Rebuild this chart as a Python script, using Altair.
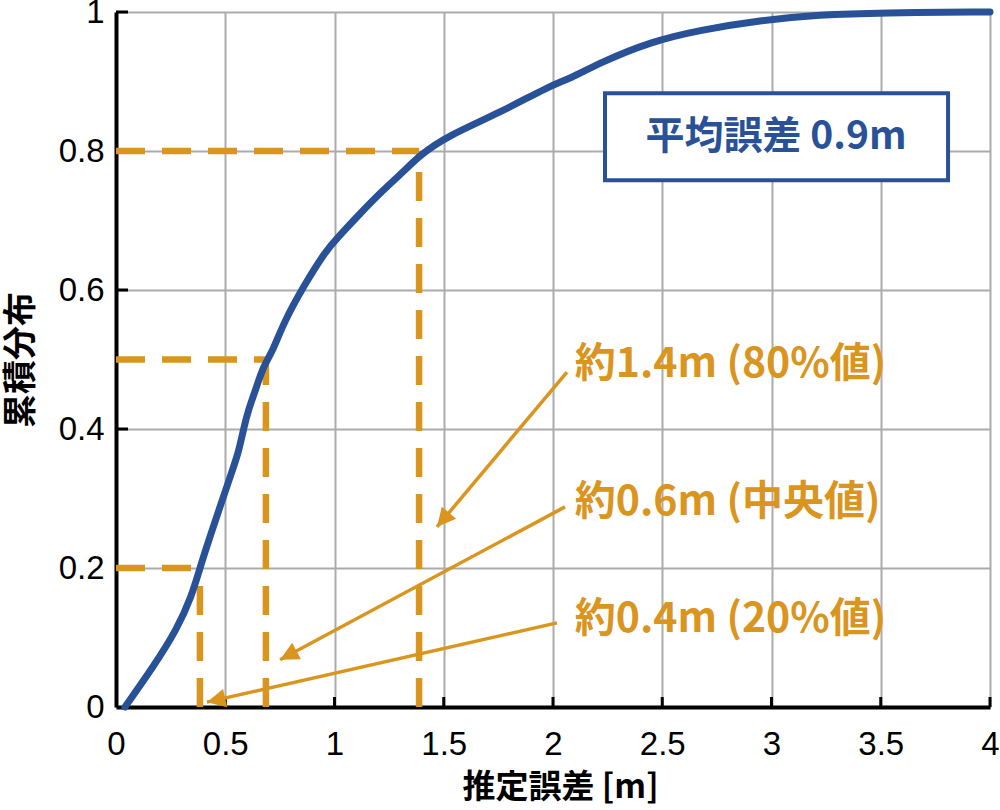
import math
import altair as alt
import pandas as pd

# ---- data ----
curve_x = [0.041, 0.171, 0.278, 0.346, 0.384, 0.430, 0.476, 0.522, 0.560, 0.583,
           0.606, 0.644, 0.674, 0.720, 0.766, 0.857, 0.964, 1.010, 1.117, 1.223,
           1.315, 1.391, 1.513, 1.757, 1.986, 2.078, 2.215, 2.444, 2.673, 2.947,
           3.222, 3.497, 4.0]
curve_y = [0.0, 0.058, 0.111, 0.159, 0.2, 0.245, 0.288, 0.331, 0.365, 0.399,
           0.428, 0.461, 0.490, 0.514, 0.552, 0.605, 0.658, 0.674, 0.710, 0.744,
           0.770, 0.794, 0.821, 0.855, 0.894, 0.904, 0.927, 0.957, 0.974, 0.988,
           0.996, 0.999, 1.0]

x_ticks = [0, 0.5, 1, 1.5, 2, 2.5, 3, 3.5, 4]
y_ticks = [0, 0.2, 0.4, 0.6, 0.8, 1]

guide_x = [0.384, 0.686, 1.387]
guide_y = [0.2, 0.5, 0.8]

label_texts = ["約1.4m (80%値)", "約0.6m (中央値)", "約0.4m (20%値)"]
label_x = [2.10, 2.10, 2.10]
label_y = [0.492, 0.294, 0.125]

arrow_x0 = [2.064, 2.055, 2.018]
arrow_y0 = [0.482, 0.288, 0.121]
arrow_x1 = [1.469, 0.751, 0.416]
arrow_y1 = [0.259, 0.068, 0.007]

box_text = ["平均誤差 0.9m"]
box_text_x = [3.021]
box_text_y = [0.820]
box_x = [2.238]
box_x2 = [3.808]
box_y = [0.758]
box_y2 = [0.883]

x_title = "推定誤差 [m]"
y_title = "累積分布"

# ---- layout / style ----
W, H = 874, 695
BLUE = "#285197"
ORANGE = "#D9951E"
CJK = "Noto Sans CJK JP"
NUM = "Liberation Sans"

xs = alt.Scale(domain=[0, 4], nice=False, zero=False)
ys = alt.Scale(domain=[0, 1], nice=False, zero=False)

curve_df = pd.DataFrame({"x": curve_x, "y": curve_y})
ticks_x_df = pd.DataFrame({"v": x_ticks})

# base with axes and grid
base = alt.Chart(ticks_x_df).mark_point(opacity=0).encode(
    x=alt.X("v:Q", scale=xs, title=x_title,
            axis=alt.Axis(values=x_ticks, format="~g", grid=True, gridColor="#ABABAB",
                          gridWidth=2, domainColor="black", domainWidth=4, ticks=False,
                          labelFont=NUM, labelFontSize=33, labelColor="black",
                          labelPadding=21, labelFlush=False,
                          titleFont=CJK, titleFontSize=33, titleFontWeight="bold",
                          titleColor="black", titleX=W / 2 + 7, titleY=80,
                          titleBaseline="middle", titleAlign="center")),
    y=alt.Y("v:Q", scale=ys, title=y_title,
            axis=alt.Axis(values=y_ticks, format="~g", grid=True, gridColor="#ABABAB",
                          gridWidth=2, domainColor="black", domainWidth=4, ticks=False,
                          labelFont=NUM, labelFontSize=33, labelColor="black",
                          labelPadding=12, labelFlush=False,
                          titleFont=CJK, titleFontSize=34, titleFontWeight="bold",
                          titleColor="black", titleX=-95, titleY=H / 2,
                          titleAngle=-90, titleBaseline="middle", titleAlign="center")),
)

# inward tick marks
xtick_marks = alt.Chart(pd.DataFrame({"v": x_ticks[1:]})).mark_rule(
    color="black", strokeWidth=3).encode(
    x=alt.X("v:Q", scale=xs), y=alt.value(H), y2=alt.value(H - 10))
ytick_marks = alt.Chart(pd.DataFrame({"v": y_ticks[1:]})).mark_rule(
    color="black", strokeWidth=3).encode(
    y=alt.Y("v:Q", scale=ys), x=alt.value(0), x2=alt.value(12))

# dashed guide lines
guide_df = pd.DataFrame({"gx": guide_x, "gy": guide_y, "zero": [0.0] * 3})
hguides = alt.Chart(guide_df).mark_rule(
    color=ORANGE, strokeWidth=6.5, strokeDash=[29, 17]).encode(
    x=alt.X("zero:Q", scale=xs), x2="gx:Q", y=alt.Y("gy:Q", scale=ys))
vguides = alt.Chart(guide_df).mark_rule(
    color=ORANGE, strokeWidth=6.5, strokeDash=[29, 17]).encode(
    x=alt.X("gx:Q", scale=xs), y=alt.Y("zero:Q", scale=ys), y2="gy:Q")

# curve
curve = alt.Chart(curve_df).mark_line(
    color=BLUE, strokeWidth=7, interpolate="basis", strokeCap="round").encode(
    x=alt.X("x:Q", scale=xs), y=alt.Y("y:Q", scale=ys))

# box
box_df = pd.DataFrame({"x": box_x, "x2": box_x2, "y": box_y, "y2": box_y2,
                       "t": box_text, "tx": box_text_x, "ty": box_text_y})
box = alt.Chart(box_df).mark_rect(fill="white", stroke=BLUE, strokeWidth=4).encode(
    x=alt.X("x:Q", scale=xs), x2="x2:Q", y=alt.Y("y:Q", scale=ys), y2="y2:Q")
box_label = alt.Chart(box_df).mark_text(
    font=CJK, fontSize=39, fontWeight="bold", color=BLUE,
    align="center", baseline="middle").encode(
    x=alt.X("tx:Q", scale=xs), y=alt.Y("ty:Q", scale=ys), text="t:N")

# annotation labels
lab_df = pd.DataFrame({"t": label_texts, "x": label_x, "y": label_y})
labels = alt.Chart(lab_df).mark_text(
    font=CJK, fontSize=41, fontWeight="bold", color=ORANGE,
    align="left", baseline="middle").encode(
    x=alt.X("x:Q", scale=xs), y=alt.Y("y:Q", scale=ys), text="t:N")

# arrows
angles = []
for x0, y0, x1, y1 in zip(arrow_x0, arrow_y0, arrow_x1, arrow_y1):
    dx = (x1 - x0) * W / 4
    dy = -(y1 - y0) * H
    angles.append(math.degrees(math.atan2(dx, -dy)) % 360)
arr_df = pd.DataFrame({"x0": arrow_x0, "y0": arrow_y0, "x1": arrow_x1,
                       "y1": arrow_y1, "ang": angles})
arrow_lines = alt.Chart(arr_df).mark_rule(color=ORANGE, strokeWidth=3.5).encode(
    x=alt.X("x0:Q", scale=xs), y=alt.Y("y0:Q", scale=ys), x2="x1:Q", y2="y1:Q")
arrow_heads = alt.Chart(arr_df).mark_point(
    shape="M0,0L-0.5,1L0.5,1Z", size=1400, filled=True, color=ORANGE,
    opacity=1, strokeWidth=0).encode(
    x=alt.X("x1:Q", scale=xs), y=alt.Y("y1:Q", scale=ys),
    angle=alt.Angle("ang:Q", scale=None))

chart = alt.layer(
    base, xtick_marks, ytick_marks, hguides, vguides, curve,
    box, box_label, labels, arrow_lines, arrow_heads
).properties(
    width=W, height=H,
    autosize=alt.AutoSizeParams(type="none"),
    padding={"left": 116, "top": 12, "right": 10, "bottom": 103},
    background="white",
).configure_view(stroke=None)

chart.save("out.html", embed_options={"renderer": "svg", "actions": False})
